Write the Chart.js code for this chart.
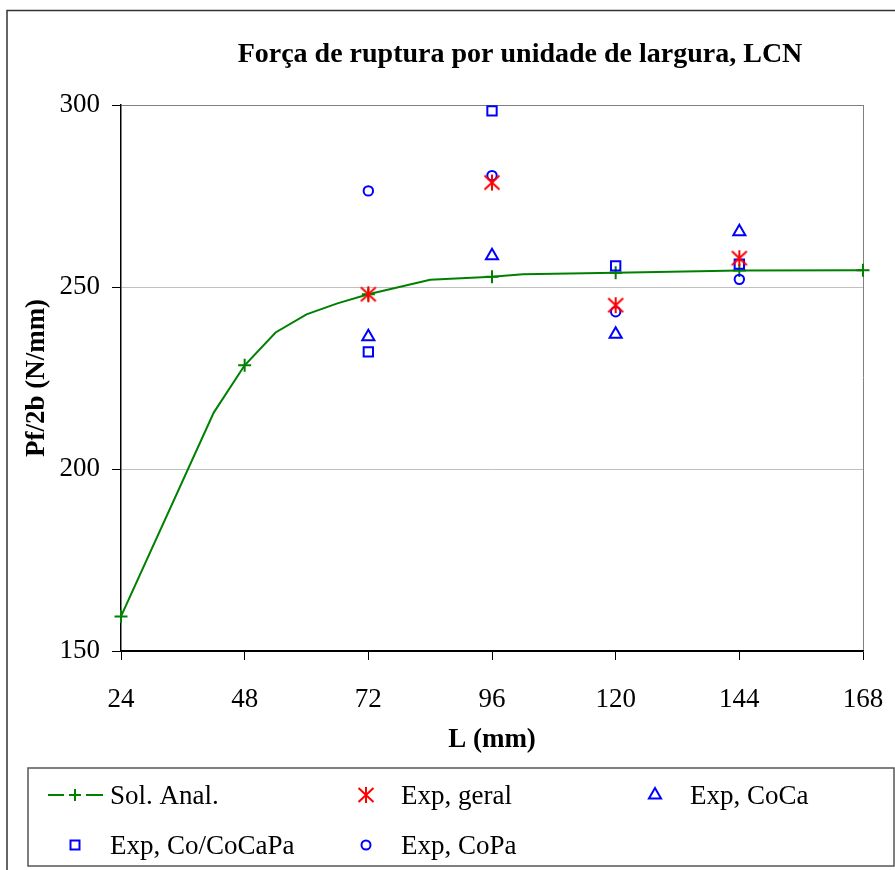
<!DOCTYPE html>
<html>
<head>
<meta charset="utf-8">
<title>Força de ruptura por unidade de largura, LCN</title>
<script src="https://cdn.jsdelivr.net/npm/chart.js@4.4.1/dist/chart.umd.min.js"></script>
<style>
    html, body { margin: 0; padding: 0; background: #fff; }
    #grafico { display: block; }
</style>
</head>
<body>
<canvas id="grafico" width="895" height="870"></canvas>
<script>
// Solução analítica (curva)
const solX = [24, 42, 48, 54, 60, 66, 72, 84, 96, 102, 120, 144, 168];
const solY = [159.5, 215.5, 228.5, 237.5, 242.5, 245.5, 248, 252, 252.8, 253.5, 253.9, 254.5, 254.6];

// Ensaios experimentais
const expX = [72, 96, 120, 144];
const expGeral = [248, 278.7, 245, 257.9];
const expCoCa = [236.3, 258.6, 237, 265.2];
const expCoCaPa = [232.2, 298.4, 255.8, 256.3];
const expCoPa = [276.4, 280.6, 243.2, 252.1];

const ticksX = [24, 48, 72, 96, 120, 144, 168];
const ticksY = [150, 200, 250, 300];

const titulo = 'Força de ruptura por unidade de largura, LCN';
const fonte = '"Liberation Serif", "Times New Roman", serif';
const verde = '#008000';
const vermelho = '#ff0000';
const azul = '#0000ff';

function pares(xs, ys) {
    return xs.map((x, i) => ({ x: x, y: ys[i] }));
}

// asterisco de 6 braços (| e X), como no Excel
function asterisco(cor) {
    const c = document.createElement('canvas');
    c.width = 18;
    c.height = 18;
    const g = c.getContext('2d');
    g.strokeStyle = cor;
    g.lineWidth = 2;
    g.beginPath();
    g.moveTo(9, 1); g.lineTo(9, 17);
    g.moveTo(1.5, 2); g.lineTo(16.5, 16);
    g.moveTo(16.5, 2); g.lineTo(1.5, 16);
    g.stroke();
    return c;
}
const imgAsterisco = asterisco(vermelho);

function desenharSimbolo(ctx, tipo, x, y, cor) {
    ctx.save();
    ctx.strokeStyle = cor;
    ctx.lineWidth = 2;
    ctx.beginPath();
    if (tipo === 'cross') {
        ctx.moveTo(x - 6, y); ctx.lineTo(x + 6, y);
        ctx.moveTo(x, y - 6); ctx.lineTo(x, y + 6);
        ctx.moveTo(x - 27, y); ctx.lineTo(x - 11, y);
        ctx.moveTo(x + 11, y); ctx.lineTo(x + 28, y);
        ctx.stroke();
    } else if (tipo === 'asterisco') {
        ctx.drawImage(imgAsterisco, x - 9, y - 9);
    } else if (tipo === 'triangle') {
        const r = 7;
        ctx.moveTo(x, y - r);
        ctx.lineTo(x + r * 0.866, y + r / 2);
        ctx.lineTo(x - r * 0.866, y + r / 2);
        ctx.closePath();
        ctx.stroke();
    } else if (tipo === 'rect') {
        ctx.rect(x - 4.5, y - 4.5, 9, 9);
        ctx.stroke();
    } else if (tipo === 'circle') {
        ctx.arc(x, y, 4.5, 0, Math.PI * 2);
        ctx.stroke();
    }
    ctx.restore();
}

const itensLegenda = [
    { texto: 'Sol. Anal.', tipo: 'cross', cor: verde, x: 75, y: 795 },
    { texto: 'Exp, geral', tipo: 'asterisco', cor: vermelho, x: 366, y: 795 },
    { texto: 'Exp, CoCa', tipo: 'triangle', cor: azul, x: 655, y: 795 },
    { texto: 'Exp, Co/CoCaPa', tipo: 'rect', cor: azul, x: 75, y: 845 },
    { texto: 'Exp, CoPa', tipo: 'circle', cor: azul, x: 366, y: 845 }
];

const molduraLegenda = {
    id: 'molduraLegenda',
    afterDraw(chart) {
        const ctx = chart.ctx;
        ctx.save();

        // moldura externa do gráfico
        ctx.strokeStyle = '#333';
        ctx.lineWidth = 1.5;
        ctx.beginPath();
        ctx.moveTo(7, 870); ctx.lineTo(7, 10.5); ctx.lineTo(895, 10.5);
        ctx.stroke();

        // título
        ctx.fillStyle = '#000';
        ctx.font = 'bold 28px ' + fonte;
        ctx.textAlign = 'center';
        ctx.textBaseline = 'alphabetic';
        ctx.fillText(titulo, 520, 62);

        // caixa da legenda
        ctx.strokeStyle = '#555';
        ctx.lineWidth = 1.5;
        ctx.strokeRect(28, 768, 866, 98);

        ctx.font = '27px ' + fonte;
        ctx.textAlign = 'left';
        itensLegenda.forEach(item => {
            desenharSimbolo(ctx, item.tipo, item.x, item.y, item.cor);
            ctx.fillStyle = '#000';
            ctx.fillText(item.texto, item.x + 35, item.y + 9);
        });
        ctx.restore();
    }
};

Chart.defaults.font.family = fonte;
Chart.defaults.color = '#000';

new Chart(document.getElementById('grafico'), {
    type: 'scatter',
    data: {
        datasets: [{
            label: 'Sol. Anal.',
            data: pares(solX, solY),
            showLine: true,
            clip: false,
            borderColor: verde,
            backgroundColor: 'rgba(0,0,0,0)',
            borderWidth: 2,
            tension: 0,
            pointStyle: 'cross',
            pointRadius: ctx => (ctx.raw && ctx.raw.x % 24 === 0 ? 6.5 : 0),
            pointBorderWidth: 2,
            order: 5
        }, {
            label: 'Exp, geral',
            data: pares(expX, expGeral),
            clip: false,
            pointStyle: imgAsterisco,
            borderColor: vermelho,
            backgroundColor: vermelho,
            order: 1
        }, {
            label: 'Exp, CoCa',
            data: pares(expX, expCoCa),
            clip: false,
            pointStyle: 'triangle',
            pointRadius: 7,
            borderColor: azul,
            backgroundColor: 'rgba(0,0,0,0)',
            pointBorderWidth: 2,
            order: 2
        }, {
            label: 'Exp, Co/CoCaPa',
            data: pares(expX, expCoCaPa),
            clip: false,
            pointStyle: 'rect',
            pointRadius: 6.6,
            borderColor: azul,
            backgroundColor: 'rgba(0,0,0,0)',
            pointBorderWidth: 2,
            order: 3
        }, {
            label: 'Exp, CoPa',
            data: pares(expX, expCoPa),
            clip: false,
            pointStyle: 'circle',
            pointRadius: 4.7,
            borderColor: azul,
            backgroundColor: 'rgba(0,0,0,0)',
            pointBorderWidth: 2,
            order: 4
        }]
    },
    options: {
        responsive: false,
        animation: false,
        devicePixelRatio: 1,
        events: [],
        layout: {
            padding: { top: 105, right: 32, bottom: 110, left: 0 }
        },
        scales: {
            x: {
                type: 'linear',
                min: 24,
                max: 168,
                afterBuildTicks: s => { s.ticks = ticksX.map(v => ({ value: v })); },
                afterFit: s => {
                    s.height = 109;
                    s.paddingLeft = 0;
                    s.paddingRight = 0;
                },
                ticks: {
                    font: { size: 27 },
                    color: '#000',
                    padding: 24,
                    maxRotation: 0
                },
                grid: {
                    color: ctx => (ctx.tick && ctx.tick.value === 168 ? '#808080' : 'rgba(0,0,0,0)'),
                    tickColor: '#000',
                    tickLength: 9,
                    lineWidth: 1
                },
                border: { color: '#000', width: 1.5 },
                title: {
                    display: true,
                    text: 'L (mm)',
                    font: { size: 27, weight: 'bold' },
                    color: '#000',
                    padding: { top: 0, bottom: 4 }
                }
            },
            y: {
                min: 150,
                max: 300,
                afterBuildTicks: s => { s.ticks = ticksY.map(v => ({ value: v })); },
                afterFit: s => {
                    s.width = 121;
                    s.paddingTop = 0;
                    s.paddingBottom = 0;
                },
                ticks: {
                    font: { size: 27 },
                    color: '#000',
                    padding: 12
                },
                grid: {
                    color: ctx => {
                        if (!ctx.tick) return '#c0c0c0';
                        if (ctx.tick.value === 300) return '#808080';
                        if (ctx.tick.value === 150) return '#000';
                        return '#c0c0c0';
                    },
                    tickColor: '#000',
                    tickLength: 9,
                    lineWidth: 1
                },
                border: { color: '#000', width: 1.5 },
                title: {
                    display: true,
                    text: 'Pf/2b (N/mm)',
                    font: { size: 27, weight: 'bold' },
                    color: '#000',
                    padding: { top: 21, bottom: 0 }
                }
            }
        },
        plugins: {
            legend: { display: false },
            title: { display: false },
            tooltip: { enabled: false }
        }
    },
    plugins: [molduraLegenda]
});
</script>
</body>
</html>
